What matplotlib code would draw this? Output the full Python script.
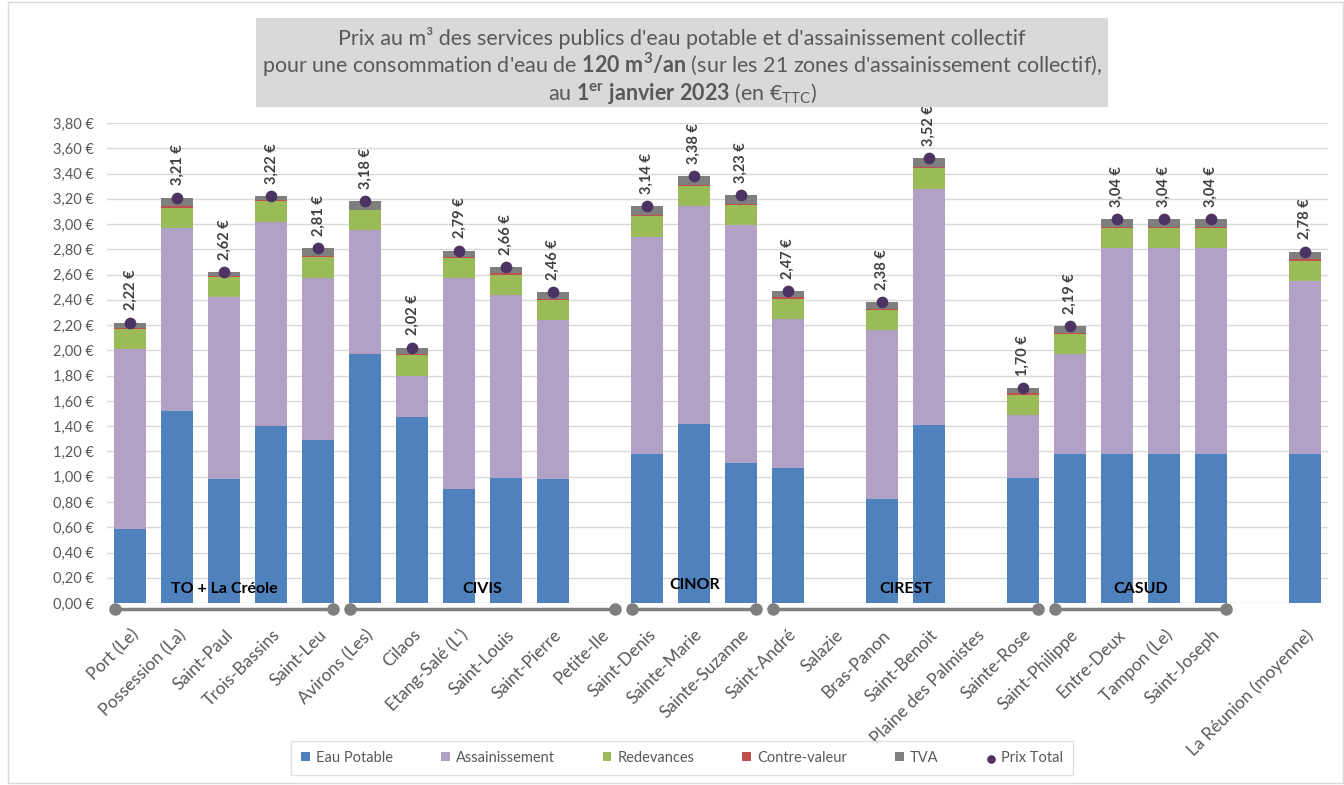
import numpy as np
import matplotlib
matplotlib.use("Agg")
import matplotlib.pyplot as plt
from matplotlib.patches import Rectangle

plt.rcParams['font.family'] = ['Lato', 'DejaVu Sans']
plt.rcParams['mathtext.fontset'] = 'custom'
plt.rcParams['mathtext.rm'] = 'Lato'
plt.rcParams['mathtext.bf'] = 'Lato:bold'
plt.rcParams['mathtext.it'] = 'Lato:italic'

# Données (prix au m3, en euros TTC)
communes = ["Port (Le)", "Possession (La)", "Saint-Paul", "Trois-Bassins", "Saint-Leu",
            "Avirons (Les)", "Cilaos", "Etang-Salé (L')", "Saint-Louis", "Saint-Pierre",
            "Petite-Ile", "Saint-Denis", "Sainte-Marie", "Sainte-Suzanne", "Saint-André",
            "Salazie", "Bras-Panon", "Saint-Benoit", "Plaine des Palmistes", "Sainte-Rose",
            "Saint-Philippe", "Entre-Deux", "Tampon (Le)", "Saint-Joseph", "",
            "La Réunion (moyenne)"]
eau_potable = [0.59, 1.52, 0.98, 1.40, 1.29, 1.97, 1.47, 0.90, 0.99, 0.98,
               None, 1.18, 1.42, 1.11, 1.07, None, 0.82, 1.41, None, 0.99,
               1.18, 1.18, 1.18, 1.18, None, 1.18]
assainissement = [1.42, 1.45, 1.44, 1.62, 1.28, 0.98, 0.33, 1.67, 1.45, 1.26,
                  None, 1.72, 1.72, 1.88, 1.18, None, 1.34, 1.87, None, 0.50,
                  0.79, 1.63, 1.63, 1.63, None, 1.37]
redevances = [0.16, 0.16, 0.16, 0.16, 0.17, 0.16, 0.16, 0.16, 0.16, 0.16,
              None, 0.16, 0.16, 0.16, 0.16, None, 0.16, 0.16, None, 0.16,
              0.16, 0.16, 0.16, 0.16, None, 0.16]
contre_valeur = [0.01, 0.01, 0.01, 0.01, 0.01, 0.00, 0.01, 0.01, 0.01, 0.01,
                 None, 0.01, 0.01, 0.01, 0.01, None, 0.01, 0.01, None, 0.01,
                 0.01, 0.01, 0.01, 0.01, None, 0.01]
tva = [0.04, 0.07, 0.03, 0.03, 0.06, 0.07, 0.05, 0.05, 0.05, 0.05,
       None, 0.07, 0.07, 0.07, 0.05, None, 0.05, 0.07, None, 0.04,
       0.05, 0.06, 0.06, 0.06, None, 0.06]
prix_total = [2.22, 3.21, 2.62, 3.22, 2.81, 3.18, 2.02, 2.79, 2.66, 2.46,
              None, 3.14, 3.38, 3.23, 2.47, None, 2.38, 3.52, None, 1.70,
              2.19, 3.04, 3.04, 3.04, None, 2.78]

# Regroupements (intercommunalités)
groupes = ["TO + La Créole", "CIVIS", "CINOR", "CIREST", "CASUD"]
groupe_debut = [0, 5, 11, 14, 20]
groupe_fin = [4, 10, 13, 19, 23]

series = [("Eau Potable", eau_potable, "#4f81bd"),
          ("Assainissement", assainissement, "#b2a1c7"),
          ("Redevances", redevances, "#9bbb59"),
          ("Contre-valeur", contre_valeur, "#c0504d"),
          ("TVA", tva, "#7f7f7f")]

def to_arr(v):
    return np.array([np.nan if x is None else x for x in v], dtype=float)

x = np.arange(len(communes))
gris_txt = "#595959"

fig = plt.figure(figsize=(13.44, 7.85), dpi=100)
ax = fig.add_axes([0.0796, 0.2318, 0.9088, 0.6115])

handles = []
bottom = np.zeros(len(x))
for nom, vals, col in series:
    v = np.nan_to_num(to_arr(vals))
    b = ax.bar(x, v, width=0.68, bottom=bottom, color=col, linewidth=0, label=nom, zorder=2)
    handles.append(b)
    bottom += v

tot = to_arr(prix_total)
ok = ~np.isnan(tot)
sc = ax.scatter(x[ok], tot[ok], s=55, color="#4b3463", zorder=4, label="Prix Total")
handles.append(sc)
for xi, t in zip(x[ok], tot[ok]):
    ax.annotate(f"{t:.2f} €".replace(".", ","), (xi, t), xytext=(0, 9),
                textcoords="offset points", rotation=90, ha="center", va="bottom",
                fontsize=10.5, fontweight="bold", color="#404040", annotation_clip=False)

ax.set_xlim(-0.5, len(x) - 0.5)
ax.set_ylim(0, 3.8)
ax.set_yticks(np.arange(0, 3.81, 0.2))
ax.set_yticklabels([f"{v:.2f} €".replace(".", ",") for v in np.arange(0, 3.81, 0.2)],
                   fontsize=10.5, color=gris_txt)
ax.set_xticks(x)
ax.set_xticklabels(communes, rotation=45, ha="right", rotation_mode="anchor",
                   fontsize=12.5, color=gris_txt)
ax.tick_params(axis="both", length=0)
ax.tick_params(axis="x", pad=17)
ax.tick_params(axis="y", pad=9)
ax.grid(axis="y", color="#d9d9d9", linewidth=1, zorder=0)
ax.set_axisbelow(True)
for s in ax.spines.values():
    s.set_visible(False)

# Accolades des groupes
for nom, d, f in zip(groupes, groupe_debut, groupe_fin):
    x0, x1 = d - 0.32, f + 0.32
    ax.plot([x0, x1], [-0.045, -0.045], color="#7f7f7f", linewidth=2.5,
            marker="o", markersize=8, clip_on=False, zorder=5)
    yl = 0.14 if nom == "CINOR" else 0.11
    ax.text((d + f) / 2, yl, nom, ha="center", va="center", fontsize=11.5,
            fontweight="bold", color="black", zorder=6)

# Titre dans un cadre gris
fig.patches.append(Rectangle((256 / 1344, 1 - 107 / 785), 852 / 1344, 89 / 785,
                             transform=fig.transFigure, facecolor="#d9d9d9",
                             edgecolor="none", zorder=0))
tx = 682 / 1344
fig.text(tx, 1 - 38 / 785, "Prix au m³ des services publics d'eau potable et d'assainissement collectif",
         ha="center", va="center", fontsize=15.5, color=gris_txt)
fig.text(tx, 1 - 65 / 785,
         r"pour une consommation d'eau de $\mathbf{120\ m^3/an}$ (sur les 21 zones d'assainissement collectif),",
         ha="center", va="center", fontsize=15.5, color=gris_txt)
fig.text(tx, 1 - 93 / 785, r"au $\mathbf{1^{er}\ janvier\ 2023}$ (en $€_{\mathrm{TTC}}$)",
         ha="center", va="center", fontsize=15.5, color=gris_txt)

# Légende
labels = [s[0] for s in series] + ["Prix Total"]
leg = fig.legend(handles, labels, loc="center", bbox_to_anchor=(682 / 1344, 1 - 758 / 785),
                 ncol=6, frameon=True, fontsize=10.5, handlelength=0.6, handleheight=0.6,
                 columnspacing=3.3, handletextpad=0.4, fancybox=False, borderpad=0.7,
                 borderaxespad=0, markerscale=0.7)
leg.get_frame().set_edgecolor("#d9d9d9")
for t in leg.get_texts():
    t.set_color(gris_txt)

# Bordure du graphique
fig.patches.append(Rectangle((8 / 1344, 0.002), 1 - 9 / 1344, 0.996, transform=fig.transFigure,
                             facecolor="none", edgecolor="#d9d9d9", linewidth=1))

fig.savefig("out.png", dpi=100)
